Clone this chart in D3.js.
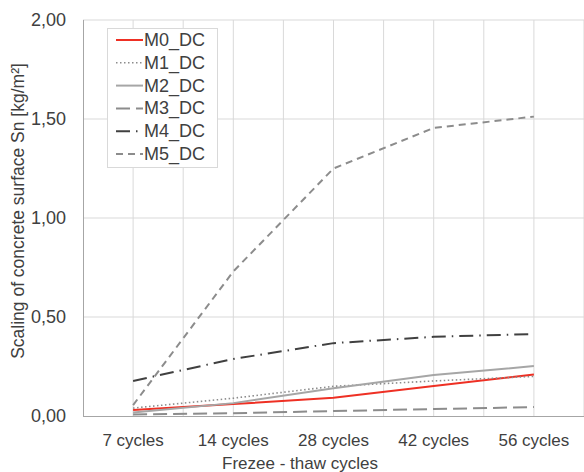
<!DOCTYPE html>
<html><head><meta charset="utf-8">
<script src="https://cdn.jsdelivr.net/npm/d3@7"></script>
<style>body{margin:0;background:#fff}svg{display:block}text{font-family:"Liberation Sans",Arial,sans-serif;fill:#404040}</style>
</head><body><svg id="c" width="584" height="472"></svg>
<script>
const categories = ["7 cycles","14 cycles","28 cycles","42 cycles","56 cycles"];
const seriesNames = ["M0_DC","M1_DC","M2_DC","M3_DC","M4_DC","M5_DC"];
const M0 = [0.030,0.060,0.092,0.152,0.210];
const M1 = [0.040,0.090,0.150,0.177,0.200];
const M2 = [0.018,0.065,0.140,0.207,0.252];
const M3 = [0.008,0.014,0.025,0.035,0.045];
const M4 = [0.177,0.288,0.368,0.400,0.414];
const M5 = [0.055,0.730,1.250,1.455,1.512];
const yTicks = [0,0.5,1,1.5,2];

const seriesValues = [M0,M1,M2,M3,M4,M5];
const styles = [
  {stroke:"#ee3024", dash:null, w:2},
  {stroke:"#8c8c8c", dash:"1.5,2.5", w:1.6},
  {stroke:"#a6a6a6", dash:null, w:2},
  {stroke:"#8c8c8c", dash:"14,6", w:2},
  {stroke:"#404040", dash:"14,6,1.5,6", w:2},
  {stroke:"#8c8c8c", dash:"7,5", w:2}
];

const svg = d3.select("#c");
const L=83, R=584, T=20, B=416;
const x = d3.scaleBand().domain(categories).range([L,R]);
const y = d3.scaleLinear().domain([0,2]).range([B,T]);
const cx = c => x(c) + x.bandwidth()/2;

// gridlines
const g = svg.append("g");
yTicks.forEach(t=>{ if(t>0) g.append("line").attr("x1",L).attr("x2",R).attr("y1",y(t)).attr("y2",y(t)).attr("stroke","#d9d9d9").attr("stroke-width",1); });
categories.forEach((c,i)=>{
  g.append("line").attr("x1",cx(c)).attr("x2",cx(c)).attr("y1",T).attr("y2",B).attr("stroke","#d9d9d9");
  g.append("line").attr("x1",x(c)+x.bandwidth()).attr("x2",x(c)+x.bandwidth()).attr("y1",T).attr("y2",B).attr("stroke","#d9d9d9");
});
// axes lines
svg.append("line").attr("x1",L+0.5).attr("x2",L+0.5).attr("y1",T).attr("y2",B).attr("stroke","#a6a6a6");
svg.append("line").attr("x1",L).attr("x2",R).attr("y1",B+0.5).attr("y2",B+0.5).attr("stroke","#a6a6a6");

// y tick labels
const fmt = v => v.toFixed(2).replace(".",",");
yTicks.forEach(t=>{
  svg.append("text").attr("x",66).attr("y",y(t)+6).attr("text-anchor","end").attr("font-size",18).text(fmt(t));
});
// x tick labels
categories.forEach(c=>{
  svg.append("text").attr("x",cx(c)).attr("y",446).attr("text-anchor","middle").attr("font-size",17).text(c);
});
svg.append("text").attr("x",300).attr("y",469).attr("text-anchor","middle").attr("font-size",17).text("Frezee - thaw cycles");
svg.append("text").attr("transform","translate(24,211) rotate(-90)").attr("text-anchor","middle").attr("font-size",17.5).text("Scaling of concrete surface Sn [kg/m²]");

// lines
const line = d3.line().x((d,i)=>cx(categories[i])).y(d=>y(d));
seriesValues.forEach((vals,k)=>{
  const p = svg.append("path").datum(vals).attr("d",line).attr("fill","none")
    .attr("stroke",styles[k].stroke).attr("stroke-width",styles[k].w);
  if(styles[k].dash) p.attr("stroke-dasharray",styles[k].dash);
});

// legend
const lg = svg.append("g");
lg.append("rect").attr("x",107.5).attr("y",28.5).attr("width",110).attr("height",139).attr("fill","#fff").attr("stroke","#d9d9d9");
seriesNames.forEach((n,k)=>{
  const yy = 40 + k*22.8;
  const l = lg.append("line").attr("x1",116).attr("x2",143).attr("y1",yy).attr("y2",yy)
    .attr("stroke",styles[k].stroke).attr("stroke-width",styles[k].w);
  if(styles[k].dash) l.attr("stroke-dasharray",styles[k].dash);
  lg.append("text").attr("x",144).attr("y",yy+6).attr("font-size",18).text(n);
});
</script></body></html>
